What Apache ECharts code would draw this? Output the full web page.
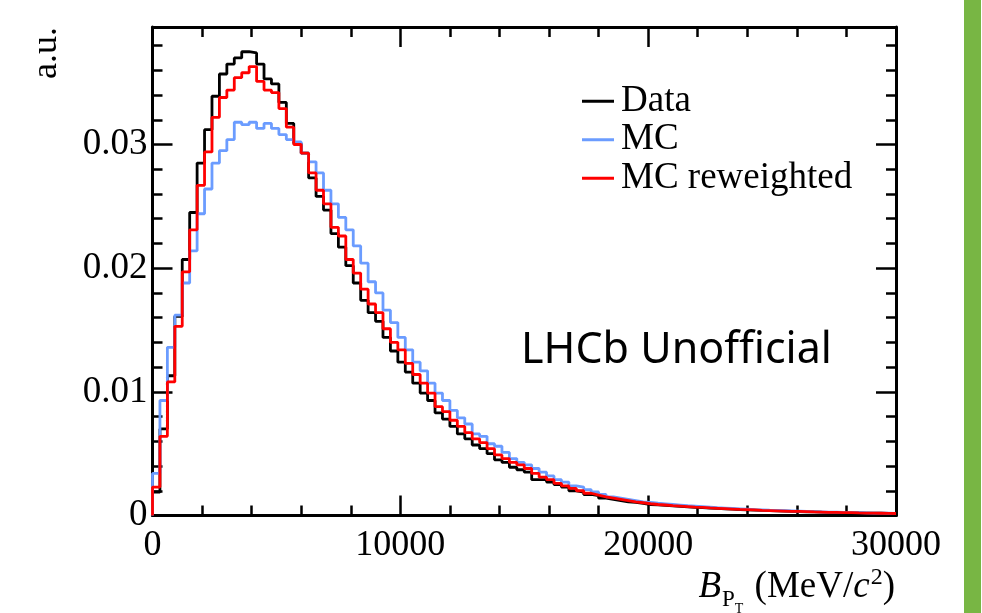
<!DOCTYPE html>
<html><head><meta charset="utf-8">
<script src="https://cdn.jsdelivr.net/npm/echarts@6/dist/echarts.min.js"></script>
<style>html,body{margin:0;padding:0;background:#fff}#chart{width:982px;height:613px}</style>
</head><body><div id="chart"></div>
<script>
const BIN_WIDTH = 300;
const X_RANGE = [0, 30000];
const Y_MAX = 0.0395;
const xTickLabels = [0, 10000, 20000, 30000];
const yTickLabels = [0, 0.01, 0.02, 0.03];
const seriesNames = ['Data', 'MC', 'MC reweighted'];

const dataHist = [
0.0019,0.0070,0.0113,0.0161,0.0207,0.0245,0.0285,0.0312,0.0339,0.0357,
0.0365,0.0370,0.0375,0.0374,0.0365,0.0353,0.0349,0.0334,0.0317,0.0301,
0.0293,0.0273,0.0258,0.0247,0.0228,0.0217,0.0202,0.0188,0.0174,0.0164,
0.0157,0.0144,0.0133,0.0124,0.0116,0.0107,0.0099,0.0093,0.0083,0.0078,
0.0072,0.0066,0.0062,0.0057,0.0054,0.0050,0.0045,0.0043,0.0039,0.0037,
0.0035,0.0029,0.0029,0.0027,0.0025,0.0023,0.0020,0.0019,0.0017,0.0016,
0.0014,0.0013,0.0012,0.0011,0.00106,0.00098,0.00089,0.00086,0.00082,0.00078,
0.00073,0.00070,0.00066,0.00063,0.00059,0.00057,0.00053,0.00051,0.00048,0.00046,
0.00044,0.00041,0.00039,0.00037,0.00036,0.00034,0.00032,0.00030,0.00029,0.00027,
0.00026,0.00025,0.00023,0.00022,0.00021,0.00020,0.00019,0.00018,0.00017,0.00016
];
const mcHist = [
0.0034,0.0093,0.0136,0.0162,0.0188,0.0214,0.0244,0.0264,0.0285,0.0295,
0.0304,0.0318,0.0316,0.0318,0.0313,0.0317,0.0313,0.0308,0.0304,0.0302,
0.0293,0.0286,0.0277,0.0263,0.0252,0.0241,0.0231,0.0218,0.0204,0.0189,
0.0180,0.0166,0.0156,0.0144,0.0134,0.0124,0.0117,0.0107,0.0099,0.0093,
0.0085,0.0079,0.0074,0.0066,0.0064,0.0058,0.0056,0.0051,0.0046,0.0043,
0.0041,0.0038,0.0035,0.0032,0.0029,0.0027,0.0024,0.0023,0.0021,0.0019,
0.0017,0.0015,0.0014,0.0013,0.0012,0.0011,0.00106,0.00099,0.00094,0.00089,
0.00084,0.00079,0.00075,0.00071,0.00067,0.00063,0.00060,0.00057,0.00054,0.00051,
0.00048,0.00046,0.00043,0.00041,0.00039,0.00037,0.00035,0.00033,0.00031,0.00030,
0.00028,0.00027,0.00025,0.00024,0.00023,0.00022,0.00020,0.00019,0.00018,0.00017
];
const mcRwHist = [
0.0023,0.0064,0.0108,0.0153,0.0197,0.0231,0.0267,0.0294,0.0322,0.0338,
0.0344,0.0354,0.0358,0.0363,0.0351,0.0344,0.0342,0.0329,0.0314,0.0300,
0.0293,0.0277,0.0263,0.0252,0.0233,0.0226,0.0207,0.0196,0.0183,0.0171,
0.0164,0.0151,0.0140,0.0134,0.0123,0.0114,0.0107,0.0099,0.0088,0.0084,
0.0077,0.0072,0.0067,0.0062,0.0059,0.0054,0.0049,0.0046,0.0043,0.0041,
0.0038,0.0034,0.0031,0.0029,0.0026,0.0024,0.0022,0.0020,0.0018,0.00165,
0.0015,0.0014,0.0013,0.0012,0.0011,0.00103,0.00095,0.00089,0.00085,0.00080,
0.00076,0.00072,0.00068,0.00065,0.00061,0.00058,0.00055,0.00052,0.00049,0.00047,
0.00045,0.00042,0.00040,0.00038,0.00036,0.00034,0.00033,0.00031,0.00029,0.00028,
0.00026,0.00025,0.00024,0.00023,0.00021,0.00020,0.00019,0.00018,0.00017,0.00016
];
const seriesColors = ['#000000', '#6b9cff', '#ff0000'];

function toSteps(vals) {
  const pts = [[X_RANGE[0], 0]];
  vals.forEach((v, i) => pts.push([X_RANGE[0] + i * BIN_WIDTH, v]));
  pts.push([X_RANGE[0] + vals.length * BIN_WIDTH, vals[vals.length - 1]]);
  return pts;
}

const SERIF = '"Liberation Serif", "Times New Roman", serif';
const FS = 36;
const AX_W = 3;

function xAxisCfg(pos, showLabels) {
  return {
    type: 'value', position: pos, min: X_RANGE[0], max: X_RANGE[1], interval: 10000,
    axisLine: { show: true, onZero: false, lineStyle: { color: '#000', width: AX_W } },
    axisTick: { show: true, inside: true, length: 20, lineStyle: { color: '#000', width: 2.5 } },
    minorTick: { show: true, splitNumber: 5, length: 10, lineStyle: { color: '#000', width: 2.5 } },
    splitLine: { show: false }, minorSplitLine: { show: false },
    axisLabel: {
      show: showLabels, margin: 12, fontFamily: SERIF, fontSize: FS, color: '#000',
      showMinLabel: true, showMaxLabel: true,
      formatter: v => xTickLabels.includes(v) ? String(v) : ''
    }
  };
}
function yAxisCfg(pos, major, showLabels) {
  return {
    type: 'value', position: pos, min: 0, max: Y_MAX, interval: major ? 0.01 : 0.002,
    axisLine: { show: major, onZero: false, lineStyle: { color: '#000', width: AX_W } },
    axisTick: { show: true, inside: true, length: major ? 20 : 10, lineStyle: { color: '#000', width: 2.5 } },
    splitLine: { show: false },
    axisLabel: {
      show: showLabels, margin: 5, fontFamily: SERIF, fontSize: 37, color: '#000',
      showMaxLabel: false,
      formatter: v => {
        const t = yTickLabels.find(x => Math.abs(x - v) < 1e-9);
        return t === undefined ? '' : (t === 0 ? '0' : t.toFixed(2));
      }
    }
  };
}

// x-axis title pieces laid out with measured widths
const measureCtx = document.createElement('canvas').getContext('2d');
function fontStr(f, it) { return (it ? 'italic ' : '') + f + 'px ' + SERIF; }
const titlePieces = [
  { t: 'B', f: 37, it: true, dy: 0, gap: 1 },
  { t: 'P', f: 23, it: false, dy: 8, gap: 0 },
  { t: 'T', f: 14, it: false, dy: 14, gap: 2 },
  { t: ' (MeV/', f: 37, it: false, dy: 0, gap: 0 },
  { t: 'c', f: 37, it: true, dy: 0, gap: 1 },
  { t: '2', f: 24, it: false, dy: -14, gap: 0 },
  { t: ')', f: 37, it: false, dy: 0, gap: 0 }
];
const TITLE_RIGHT = 895, TITLE_BASE = 600;
let widths = titlePieces.map(p => { measureCtx.font = fontStr(p.f, p.it); return measureCtx.measureText(p.t).width + p.gap; });
let total = widths.reduce((a, b) => a + b, 0);
let cx = TITLE_RIGHT - total;
const titleEls = titlePieces.map((p, i) => {
  const el = {
    type: 'text', x: cx, y: TITLE_BASE + p.dy - 0.34 * p.f,
    style: { text: p.t, font: fontStr(p.f, p.it), fill: '#000', align: 'left', verticalAlign: 'middle', textAlign: 'left', textVerticalAlign: 'middle' }
  };
  cx += widths[i];
  return el;
});

const chart = echarts.init(document.getElementById('chart'), null, { renderer: 'canvas' });
const hists = [dataHist, mcHist, mcRwHist];
chart.setOption({
  animation: false,
  backgroundColor: '#fff',
  grid: { left: 152.5, right: 86, top: 27, bottom: 97.5, containLabel: false },
  xAxis: [xAxisCfg('bottom', true), xAxisCfg('top', false)],
  yAxis: [yAxisCfg('left', true, true), yAxisCfg('left', false, false), yAxisCfg('right', true, false), yAxisCfg('right', false, false)],
  legend: {
    data: seriesNames, orient: 'vertical', left: 582, top: 82, padding: 0, itemGap: 0,
    itemWidth: 32, itemHeight: 3, icon: 'rect', selectedMode: false,
    textStyle: { fontFamily: SERIF, fontSize: 37, color: '#000', lineHeight: 38.5, padding: [0, 0, 0, 2] }
  },
  series: hists.map((h, i) => ({
    name: seriesNames[i], type: 'line', step: 'end', xAxisIndex: 0, yAxisIndex: 0,
    data: toSteps(h), symbol: 'none', clip: true,
    lineStyle: { color: seriesColors[i], width: 2.8 }, itemStyle: { color: seriesColors[i] },
    emphasis: { disabled: true }
  })),
  graphic: [
    { type: 'rect', shape: { x: 964, y: 0, width: 17, height: 613 }, style: { fill: '#78b644' } },
    { type: 'text', x: 521, y: 351,
      style: { text: 'LHCb Unofficial', font: '43px "Noto Sans", "Open Sans", sans-serif', fill: '#000', align: 'left', verticalAlign: 'middle', textAlign: 'left', textVerticalAlign: 'middle' } },
    { type: 'text', x: 47, y: 53, rotation: Math.PI / 2,
      style: { text: 'a.u.', font: fontStr(36, false), fill: '#000', align: 'center', verticalAlign: 'middle', textAlign: 'center', textVerticalAlign: 'middle' } }
  ].concat(titleEls)
});
</script>
</body></html>
